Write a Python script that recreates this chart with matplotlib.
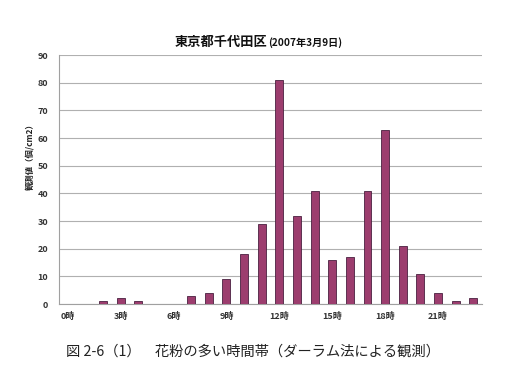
import matplotlib.pyplot as plt
import numpy as np

plt.rcParams['font.family'] = ['Noto Sans CJK JP', 'DejaVu Sans']

hours = list(range(24))
counts = [0, 0, 1, 2, 1, 0, 0, 3, 4, 9, 18, 29, 81, 32, 41, 16, 17, 41, 63, 21, 11, 4, 1, 2]
tick_hours = [0, 3, 6, 9, 12, 15, 18, 21]
tick_labels = ['0時', '3時', '6時', '9時', '12時', '15時', '18時', '21時']

fig = plt.figure(figsize=(5.15, 3.91), dpi=100)
ax = fig.add_axes([0.1146, 0.2225, 0.8214, 0.6365])

ax.bar(hours, counts, width=0.45, color='#9c3d6e', edgecolor='#4a2040', linewidth=0.6, zorder=3)

ax.set_xlim(-0.5, 23.5)
ax.set_ylim(0, 90)
ax.set_yticks(range(0, 91, 10))
ax.set_xticks(tick_hours)
ax.set_xticklabels(tick_labels)
ax.tick_params(axis='both', length=0, labelsize=6.5, colors='#333333')
for lab in ax.get_xticklabels() + ax.get_yticklabels():
    lab.set_fontweight('bold')
ax.tick_params(axis='y', pad=8)
ax.tick_params(axis='x', pad=6)

ax.grid(axis='y', color='#b0b0b0', linewidth=0.8, zorder=0)
for s in ['top', 'right']:
    ax.spines[s].set_visible(False)
ax.spines['left'].set_color('#a0a0a0')
ax.spines['bottom'].set_color('#a0a0a0')

ax.set_ylabel('観測値（個/cm2）', fontsize=6, fontweight='bold', color='#222222')
ax.yaxis.set_label_coords(-0.058, 0.6)

fig.text(0.52, 0.893, '東京都千代田区', fontsize=9.5, fontweight='bold', ha='right', va='center', color='#111111')
fig.text(0.52, 0.89, '(2007年3月9日)', fontsize=7.3, fontweight='bold', ha='left', va='center', color='#111111')

fig.text(0.128, 0.10, '図 2-6（1）　花粉の多い時間帯（ダーラム法による観測）', fontsize=10.3, ha='left', va='center', color='#222222')

fig.savefig('out.png', dpi=100, facecolor='white')
